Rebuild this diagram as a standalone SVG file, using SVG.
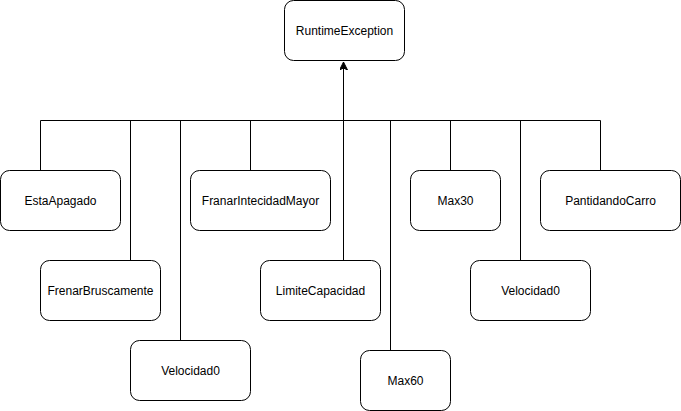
<svg xmlns="http://www.w3.org/2000/svg" width="681" height="411" viewBox="0 0 681 411">
<style>
.box{fill:#fff;stroke:#000;stroke-width:1}
.lbl{font-family:"Liberation Sans",Arial,sans-serif;font-size:12px;fill:#000;text-anchor:middle;dominant-baseline:central}
.edge{fill:none;stroke:#000;stroke-width:1}
</style>
<defs>
<marker id="arr" markerWidth="10" markerHeight="10" refX="8" refY="4" orient="auto" markerUnits="userSpaceOnUse">
<path d="M0,0 L8,4 L0,8 L2,4 Z" fill="#000" stroke="#000" stroke-width="1"/>
</marker>
</defs>
<g id="connectors">
<path class="edge" d="M40.5,170 V120.5 H600.5 V170"/>
<path class="edge" d="M130.5,260 V120.5"/>
<path class="edge" d="M180.5,340 V120.5"/>
<path class="edge" d="M250.5,170 V120.5"/>
<path class="edge" d="M390.5,350 V120.5"/>
<path class="edge" d="M450.5,170 V120.5"/>
<path class="edge" d="M520.5,260 V120.5"/>
<path class="edge" d="M343.5,260 V62" marker-end="url(#arr)"/>
</g>
<g id="RuntimeException"><rect class="box" x="284.5" y="0.5" width="120" height="60" rx="9"/><text class="lbl" x="344.5" y="30.5">RuntimeException</text></g>
<g id="EstaApagado"><rect class="box" x="0.5" y="170.5" width="120" height="60" rx="9"/><text class="lbl" x="60.5" y="200.5">EstaApagado</text></g>
<g id="FrenarBruscamente"><rect class="box" x="40.5" y="260.5" width="120" height="60" rx="9"/><text class="lbl" x="100.5" y="290.5">FrenarBruscamente</text></g>
<g id="Velocidad0a"><rect class="box" x="130.5" y="340.5" width="120" height="60" rx="9"/><text class="lbl" x="190.5" y="370.5">Velocidad0</text></g>
<g id="FranarIntecidadMayor"><rect class="box" x="190.5" y="170.5" width="140" height="60" rx="9"/><text class="lbl" x="260.5" y="200.5">FranarIntecidadMayor</text></g>
<g id="LimiteCapacidad"><rect class="box" x="260.5" y="260.5" width="120" height="60" rx="9"/><text class="lbl" x="320.5" y="290.5">LimiteCapacidad</text></g>
<g id="Max60"><rect class="box" x="360.5" y="350.5" width="90" height="60" rx="9"/><text class="lbl" x="405.5" y="380.5">Max60</text></g>
<g id="Max30"><rect class="box" x="410.5" y="170.5" width="90" height="60" rx="9"/><text class="lbl" x="455.5" y="200.5">Max30</text></g>
<g id="Velocidad0b"><rect class="box" x="470.5" y="260.5" width="120" height="60" rx="9"/><text class="lbl" x="530.5" y="290.5">Velocidad0</text></g>
<g id="PantidandoCarro"><rect class="box" x="540.5" y="170.5" width="140" height="60" rx="9"/><text class="lbl" x="610.5" y="200.5">PantidandoCarro</text></g>
</svg>
